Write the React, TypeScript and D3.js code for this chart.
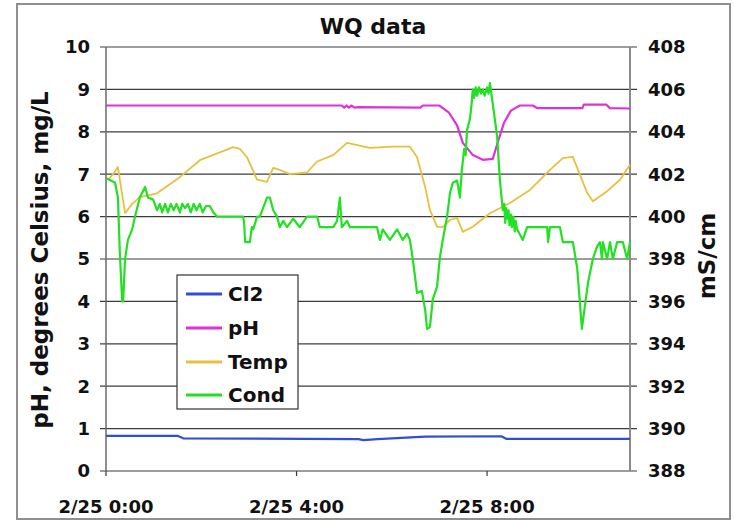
import React from 'react';
import * as d3 from 'd3';

// hours after 2/25 0:00, value
const cl2Data: [number, number][] = [
  [0, 0.83], [1.5, 0.83], [1.62, 0.77], [5.3, 0.75], [5.4, 0.73], [5.7, 0.75],
  [6.7, 0.81], [8.3, 0.82], [8.4, 0.76], [11, 0.76],
];

const phData: [number, number][] = [
  [0, 8.62], [4.95, 8.62], [5.0, 8.57], [5.05, 8.62], [5.1, 8.57], [5.15, 8.62],
  [5.22, 8.57], [5.3, 8.58], [6.6, 8.57], [6.65, 8.62], [7.0, 8.62], [7.2, 8.45],
  [7.37, 8.15], [7.49, 7.74], [7.7, 7.45], [7.91, 7.34], [8.12, 7.36], [8.21, 7.7],
  [8.35, 8.2], [8.5, 8.5], [8.69, 8.62], [8.96, 8.62], [9.05, 8.56], [10.0, 8.56],
  [10.03, 8.64], [10.5, 8.64], [10.58, 8.56], [11, 8.55],
];

const tempData: [number, number][] = [
  [0.04, 6.87], [0.15, 7.0], [0.25, 7.17], [0.3, 6.8], [0.4, 6.08], [0.55, 6.3],
  [0.71, 6.46], [1.07, 6.55], [1.55, 6.93], [1.97, 7.33], [2.67, 7.64], [2.81, 7.6],
  [2.96, 7.4], [3.17, 6.87], [3.38, 6.82], [3.51, 7.15], [3.65, 7.1], [3.86, 7.0],
  [4.22, 7.04], [4.43, 7.3], [4.77, 7.45], [5.06, 7.74], [5.54, 7.62], [6.02, 7.65],
  [6.38, 7.65], [6.53, 7.4], [6.7, 6.7], [6.8, 6.16], [6.95, 5.76], [7.07, 5.75],
  [7.22, 5.92], [7.37, 5.97], [7.49, 5.64], [7.7, 5.76], [8.06, 6.08], [8.48, 6.32],
  [8.9, 6.63], [9.32, 7.1], [9.59, 7.38], [9.8, 7.41], [10.1, 6.56], [10.22, 6.36],
  [10.52, 6.6], [10.79, 6.87], [11, 7.22],
];

// conductivity, mS/cm (right axis)
const condData: [number, number][] = [
  [0.02, 401.8], [0.19, 401.6], [0.25, 400.9], [0.29, 398.3], [0.34, 396.0], [0.36, 396.0],
  [0.4, 398.0], [0.46, 398.9], [0.55, 399.4], [0.61, 400.0], [0.71, 400.9], [0.82, 401.4],
  [0.88, 400.9], [0.99, 400.8], [1.07, 400.3], [1.13, 400.6], [1.18, 400.2], [1.24, 400.6],
  [1.3, 400.2], [1.36, 400.6], [1.42, 400.3], [1.48, 400.6], [1.55, 400.2], [1.6, 400.6],
  [1.66, 400.4], [1.72, 400.6], [1.78, 400.2], [1.84, 400.6], [1.9, 400.3], [1.97, 400.6],
  [2.03, 400.2], [2.1, 400.5], [2.18, 400.5], [2.25, 400.2], [2.33, 400.0], [2.88, 400.0],
  [2.9, 399.7], [2.92, 398.8], [3.02, 398.8], [3.06, 399.5], [3.09, 399.4], [3.17, 400.0],
  [3.23, 400.0], [3.38, 400.9], [3.44, 400.9], [3.51, 400.3], [3.59, 400.0], [3.65, 399.5],
  [3.72, 399.8], [3.8, 399.5], [3.93, 399.9], [4.07, 399.5], [4.22, 400.0], [4.43, 400.0],
  [4.49, 399.5], [4.77, 399.5], [4.85, 399.8], [4.91, 400.9], [4.95, 399.5], [5.06, 399.8],
  [5.12, 399.5], [5.69, 399.5], [5.75, 398.9], [5.81, 399.4], [5.96, 398.9], [6.11, 399.4],
  [6.23, 398.9], [6.32, 399.2], [6.38, 398.9], [6.44, 398.0], [6.53, 396.4], [6.63, 396.5],
  [6.7, 395.6], [6.74, 394.7], [6.8, 394.8], [6.86, 396.1], [6.95, 396.7], [7.01, 398.1],
  [7.07, 398.9], [7.16, 400.0], [7.22, 401.1], [7.28, 401.6], [7.37, 401.7], [7.43, 400.9],
  [7.47, 402.2], [7.52, 403.2], [7.55, 402.9], [7.58, 404.1], [7.64, 404.6], [7.67, 405.2],
  [7.7, 406.0], [7.73, 405.6], [7.76, 406.1], [7.79, 405.7], [7.83, 406.1], [7.87, 405.8],
  [7.91, 406.0], [7.95, 405.7], [8.0, 406.1], [8.03, 405.8], [8.06, 406.3], [8.12, 405.3],
  [8.21, 403.8], [8.27, 401.7], [8.33, 400.3], [8.36, 400.6], [8.38, 399.7], [8.4, 400.4],
  [8.42, 399.9], [8.45, 400.3], [8.47, 399.6], [8.5, 400.1], [8.52, 399.5], [8.55, 400.0],
  [8.58, 399.3], [8.6, 399.8], [8.63, 399.4], [8.75, 398.9], [8.84, 399.5], [9.26, 399.5],
  [9.28, 398.8], [9.32, 399.5], [9.53, 399.5], [9.59, 398.8], [9.8, 398.8], [9.89, 397.6],
  [9.95, 395.9], [9.99, 394.7], [10.06, 395.9], [10.12, 396.9], [10.22, 398.0], [10.31, 398.6],
  [10.37, 398.8], [10.41, 398.0], [10.43, 398.8], [10.52, 398.0], [10.58, 398.8], [10.64, 398.0],
  [10.73, 398.8], [10.85, 398.8], [10.94, 398.0], [11.0, 398.8],
];

const xTickHours = [0, 4, 8];
const xTickLabels = ['2/25 0:00', '2/25 4:00', '2/25 8:00'];
const leftTicks = d3.range(0, 11, 1);
const rightTicks = d3.range(388, 410, 2);
const seriesNames = ['Cl2', 'pH', 'Temp', 'Cond'];
const seriesColors = ['#2f4fd6', '#e030dc', '#e8c040', '#22e022'];

const FONT = '"DejaVu Sans", Verdana, sans-serif';

const App = () => {
  const left = 106;
  const right = 630;
  const top = 47;
  const bottom = 471;

  const x = d3.scaleLinear().domain([0, 11]).range([left, right]);
  const yL = d3.scaleLinear().domain([0, 10]).range([bottom, top]);
  const yR = d3.scaleLinear().domain([388, 408]).range([bottom, top]);

  const lineL = d3.line<[number, number]>().x(d => x(d[0])).y(d => yL(d[1]));
  const lineR = d3.line<[number, number]>().x(d => x(d[0])).y(d => yR(d[1]));

  const paths = [lineL(cl2Data), lineL(phData), lineL(tempData), lineR(condData)];

  const legX = 177;
  const legY = 275;
  const legRows = [294, 328, 362, 395];

  return (
    <svg
      width={734}
      height={525}
      style={{ position: 'absolute', left: 0, top: 0, background: '#fff' }}
      fontFamily={FONT}
      fontWeight="bold"
    >
      <rect x={17} y={4} width={713} height={515} fill="#fff" stroke="#8f8f8f" strokeWidth={2} />

      <text x={373} y={34} textAnchor="middle" fontSize={22} fill="#111">WQ data</text>

      {/* gridlines */}
      {leftTicks.map(v => (
        <line key={'g' + v} x1={100} x2={637} y1={yL(v)} y2={yL(v)} stroke="#3c3c3c" strokeWidth={1.2} />
      ))}

      {/* axes */}
      <line x1={left} x2={left} y1={top} y2={bottom} stroke="#6a6a6a" strokeWidth={1.5} />
      <line x1={right} x2={right} y1={top} y2={bottom} stroke="#8a8a8a" strokeWidth={2} />
      {xTickHours.map(h => (
        <line key={'xt' + h} x1={x(h)} x2={x(h)} y1={bottom} y2={bottom + 5} stroke="#3c3c3c" strokeWidth={1.2} />
      ))}

      {leftTicks.map(v => (
        <text key={'lt' + v} x={90} y={yL(v)} dy="0.36em" textAnchor="end" fontSize={18} fill="#111">{v}</text>
      ))}
      {rightTicks.map(v => (
        <text key={'rt' + v} x={648} y={yR(v)} dy="0.36em" textAnchor="start" fontSize={18} fill="#111">{v}</text>
      ))}
      {xTickHours.map((h, i) => (
        <text key={'xl' + h} x={x(h)} y={513} textAnchor="middle" fontSize={18} fill="#111">{xTickLabels[i]}</text>
      ))}

      <text transform="translate(48,260) rotate(-90)" textAnchor="middle" fontSize={23} fill="#111">
        pH, degrees Celsius, mg/L
      </text>
      <text transform="translate(715,256) rotate(-90)" textAnchor="middle" fontSize={23} fill="#111">
        mS/cm
      </text>

      {paths.map((d, i) => (
        <path key={'s' + i} d={d || ''} fill="none" stroke={seriesColors[i]} strokeWidth={i === 2 ? 1.8 : 2.2} strokeLinejoin="round" />
      ))}

      {/* legend */}
      <rect x={legX} y={legY} width={121} height={134} fill="#fff" stroke="#333" strokeWidth={1.2} />
      {seriesNames.map((name, i) => (
        <g key={name}>
          <line x1={186} x2={222} y1={legRows[i]} y2={legRows[i]} stroke={seriesColors[i]} strokeWidth={3} />
          <text x={228} y={legRows[i]} dy="0.36em" fontSize={20} fill="#111">{name}</text>
        </g>
      ))}
    </svg>
  );
};

export default App;
